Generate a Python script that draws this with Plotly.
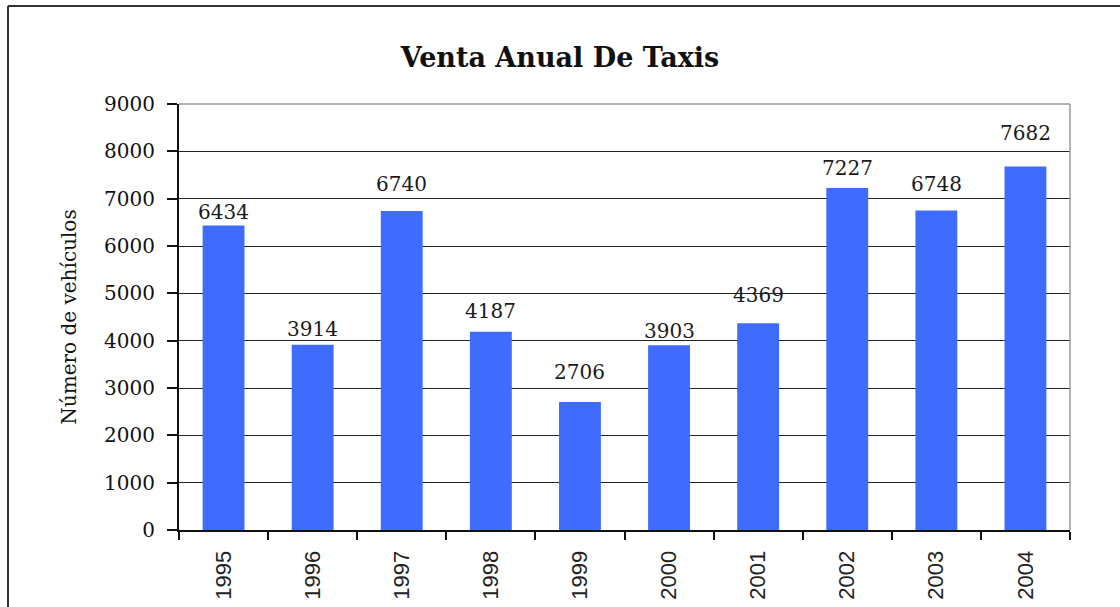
import plotly.graph_objects as go

years = ["1995", "1996", "1997", "1998", "1999", "2000", "2001", "2002", "2003", "2004"]
sales = [6434, 3914, 6740, 4187, 2706, 3903, 4369, 7227, 6748, 7682]
y_ticks = [0, 1000, 2000, 3000, 4000, 5000, 6000, 7000, 8000, 9000]

# style: pixel gap between each bar top and its value label (labels were hand-placed)
label_gap_px = [5, 8, 19, 13, 22, 6, 20, 12, 19, 25]

W, H = 1120, 607
L, R, T, B = 179, 50, 104, 77

fig = go.Figure(go.Bar(
    x=years, y=sales,
    marker=dict(color="#3F6CFF", line=dict(width=0)),
    cliponaxis=False,
    hoverinfo="skip",
))

for i, (v, gap) in enumerate(zip(sales, label_gap_px)):
    fig.add_annotation(
        x=i, y=v, xref="x", yref="y",
        text=str(v), showarrow=False,
        xanchor="center", yanchor="bottom",
        yshift=gap - 6,
        font=dict(family="DejaVu Serif", size=20, color="#1a1a1a"),
    )

pw = W - L - R
ph = H - T - B
def px_x(x):
    return (x - L) / pw
def px_y(y):
    return (H - B - y) / ph

fig.update_layout(
    width=W, height=H,
    margin=dict(l=L, r=R, t=T, b=B, autoexpand=False),
    paper_bgcolor="white", plot_bgcolor="white",
    bargap=0.53,
    showlegend=False,
    title=dict(text="<b>Venta Anual De Taxis</b>", x=0.5, xanchor="center",
               y=1 - 58 / H, yanchor="middle",
               font=dict(family="DejaVu Serif", size=27, color="#111")),
    xaxis=dict(
        type="category",
        categoryorder="array", categoryarray=years,
        range=[-0.5, len(years) - 0.5],
        automargin=False,
        tickangle=-90,
        tickson="boundaries",
        ticks="outside", ticklen=8, tickwidth=2, tickcolor="#111",
        showline=True, linecolor="#111", linewidth=2,
        tickfont=dict(family="Liberation Sans", size=22, color="#222"),
        ticklabelstandoff=10,
        showgrid=False,
    ),
    yaxis=dict(
        range=[0, 9000],
        automargin=False,
        tickvals=y_ticks,
        ticks="outside", ticklen=10, tickwidth=2, tickcolor="#111",
        showline=True, linecolor="#111", linewidth=2,
        showgrid=True, gridcolor="#222", gridwidth=1.3,
        zeroline=False,
        ticklabelstandoff=8,
        tickfont=dict(family="DejaVu Serif", size=20, color="#111"),
        title=dict(text="Número de vehículos", standoff=22,
                   font=dict(family="DejaVu Serif", size=20, color="#111")),
    ),
    shapes=[
        dict(type="line", xref="paper", yref="paper", x0=0, x1=1, y0=1, y1=1,
             line=dict(color="#9a9a9a", width=1.5), layer="above"),
        dict(type="line", xref="paper", yref="paper", x0=1, x1=1, y0=0, y1=1,
             line=dict(color="#9a9a9a", width=1.5), layer="above"),
        dict(type="line", xref="paper", yref="paper", x0=px_x(8), x1=px_x(1125),
             y0=px_y(6), y1=px_y(6), line=dict(color="#333", width=2)),
        dict(type="line", xref="paper", yref="paper", x0=px_x(8), x1=px_x(8),
             y0=px_y(6), y1=px_y(612), line=dict(color="#333", width=2)),
    ],
)

fig.write_html("out.html",
               config={"displayModeBar": False},
               post_script="document.body.style.margin='0px';document.body.style.overflow='hidden';")
